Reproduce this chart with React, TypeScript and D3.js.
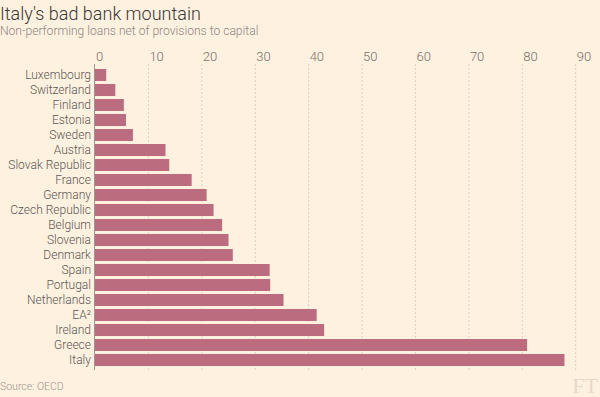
import React, { useEffect, useRef } from 'react';
import * as d3 from 'd3';

const countries = [
  'Luxembourg', 'Switzerland', 'Finland', 'Estonia', 'Sweden', 'Austria',
  'Slovak Republic', 'France', 'Germany', 'Czech Republic', 'Belgium',
  'Slovenia', 'Denmark', 'Spain', 'Portugal', 'Netherlands', 'EA²',
  'Ireland', 'Greece', 'Italy',
];
const values = [
  2.1, 3.8, 5.4, 5.8, 7.1, 13.2, 13.9, 18.1, 20.9, 22.2, 23.8,
  25.0, 25.8, 32.7, 32.8, 35.3, 41.5, 42.9, 80.9, 87.9,
];
const ticks = [0, 10, 20, 30, 40, 50, 60, 70, 80, 90];

const W = 600;
const H = 397;
const font = 'Roboto, "Open Sans", sans-serif';

const App: React.FC = () => {
  const ref = useRef<SVGSVGElement | null>(null);

  useEffect(() => {
    if (!ref.current) return;
    const svg = d3.select(ref.current);
    svg.selectAll('*').remove();

    const data = countries.map((c, i) => ({ label: c, value: values[i] }));

    const x = d3.scaleLinear().domain([0, 90]).range([95, 575.7]);
    const y = d3
      .scaleBand()
      .domain(countries)
      .range([67.5, 367.5])
      .paddingInner(0.2)
      .paddingOuter(0.1);

    svg.append('rect').attr('width', W).attr('height', H).attr('fill', '#fff1e0');

    // title + subtitle
    svg.append('text')
      .attr('x', 0).attr('y', 20)
      .attr('font-family', font).attr('font-weight', 300)
      .attr('font-size', 18).attr('fill', '#3a3734')
      .text("Italy's bad bank mountain");
    svg.append('text')
      .attr('x', 0).attr('y', 35)
      .attr('font-family', font).attr('font-weight', 300)
      .attr('font-size', 12.1).attr('fill', '#8a8580')
      .text('Non-performing loans net of provisions to capital');

    // gridlines
    svg.append('g')
      .selectAll('line')
      .data(ticks.slice(1))
      .enter()
      .append('line')
      .attr('x1', (d) => x(d)).attr('x2', (d) => x(d))
      .attr('y1', 64).attr('y2', 370)
      .attr('stroke', '#d9cfc4').attr('stroke-dasharray', '2,2');

    // tick labels
    svg.append('g')
      .selectAll('text')
      .data(ticks)
      .enter()
      .append('text')
      .attr('x', (d) => x(d) + 1)
      .attr('y', 61)
      .attr('font-family', font).attr('font-weight', 300)
      .attr('font-size', 13).attr('fill', '#74706b')
      .text((d) => d);

    // bars
    svg.append('g')
      .selectAll('rect')
      .data(data)
      .enter()
      .append('rect')
      .attr('x', x(0))
      .attr('y', (d) => y(d.label)!)
      .attr('width', (d) => x(d.value) - x(0))
      .attr('height', y.bandwidth())
      .attr('fill', '#bb6d7f');

    // axis line
    svg.append('line')
      .attr('x1', 94.5).attr('x2', 94.5)
      .attr('y1', 64).attr('y2', 370)
      .attr('stroke', '#9d968e');

    // category labels
    svg.append('g')
      .selectAll('text')
      .data(data)
      .enter()
      .append('text')
      .attr('x', 91)
      .attr('y', (d) => y(d.label)! + y.bandwidth() / 2)
      .attr('dy', '0.35em')
      .attr('text-anchor', 'end')
      .attr('font-family', font).attr('font-weight', 300)
      .attr('font-size', 12).attr('fill', '#5a5652')
      .text((d) => d.label);

    // source
    svg.append('text')
      .attr('x', 0).attr('y', 390)
      .attr('font-family', font).attr('font-weight', 300)
      .attr('font-size', 10.5).attr('fill', '#9a948d')
      .text('Source: OECD');

    svg.append('text')
      .attr('x', 598).attr('y', 393)
      .attr('text-anchor', 'end')
      .attr('font-family', '"Liberation Serif", serif')
      .attr('font-size', 22).attr('fill', '#e6d9ca')
      .text('FT');
  }, []);

  return (
    <svg
      ref={ref}
      width={W}
      height={H}
      style={{ position: 'absolute', left: 0, top: 0 }}
    />
  );
};

export default App;
